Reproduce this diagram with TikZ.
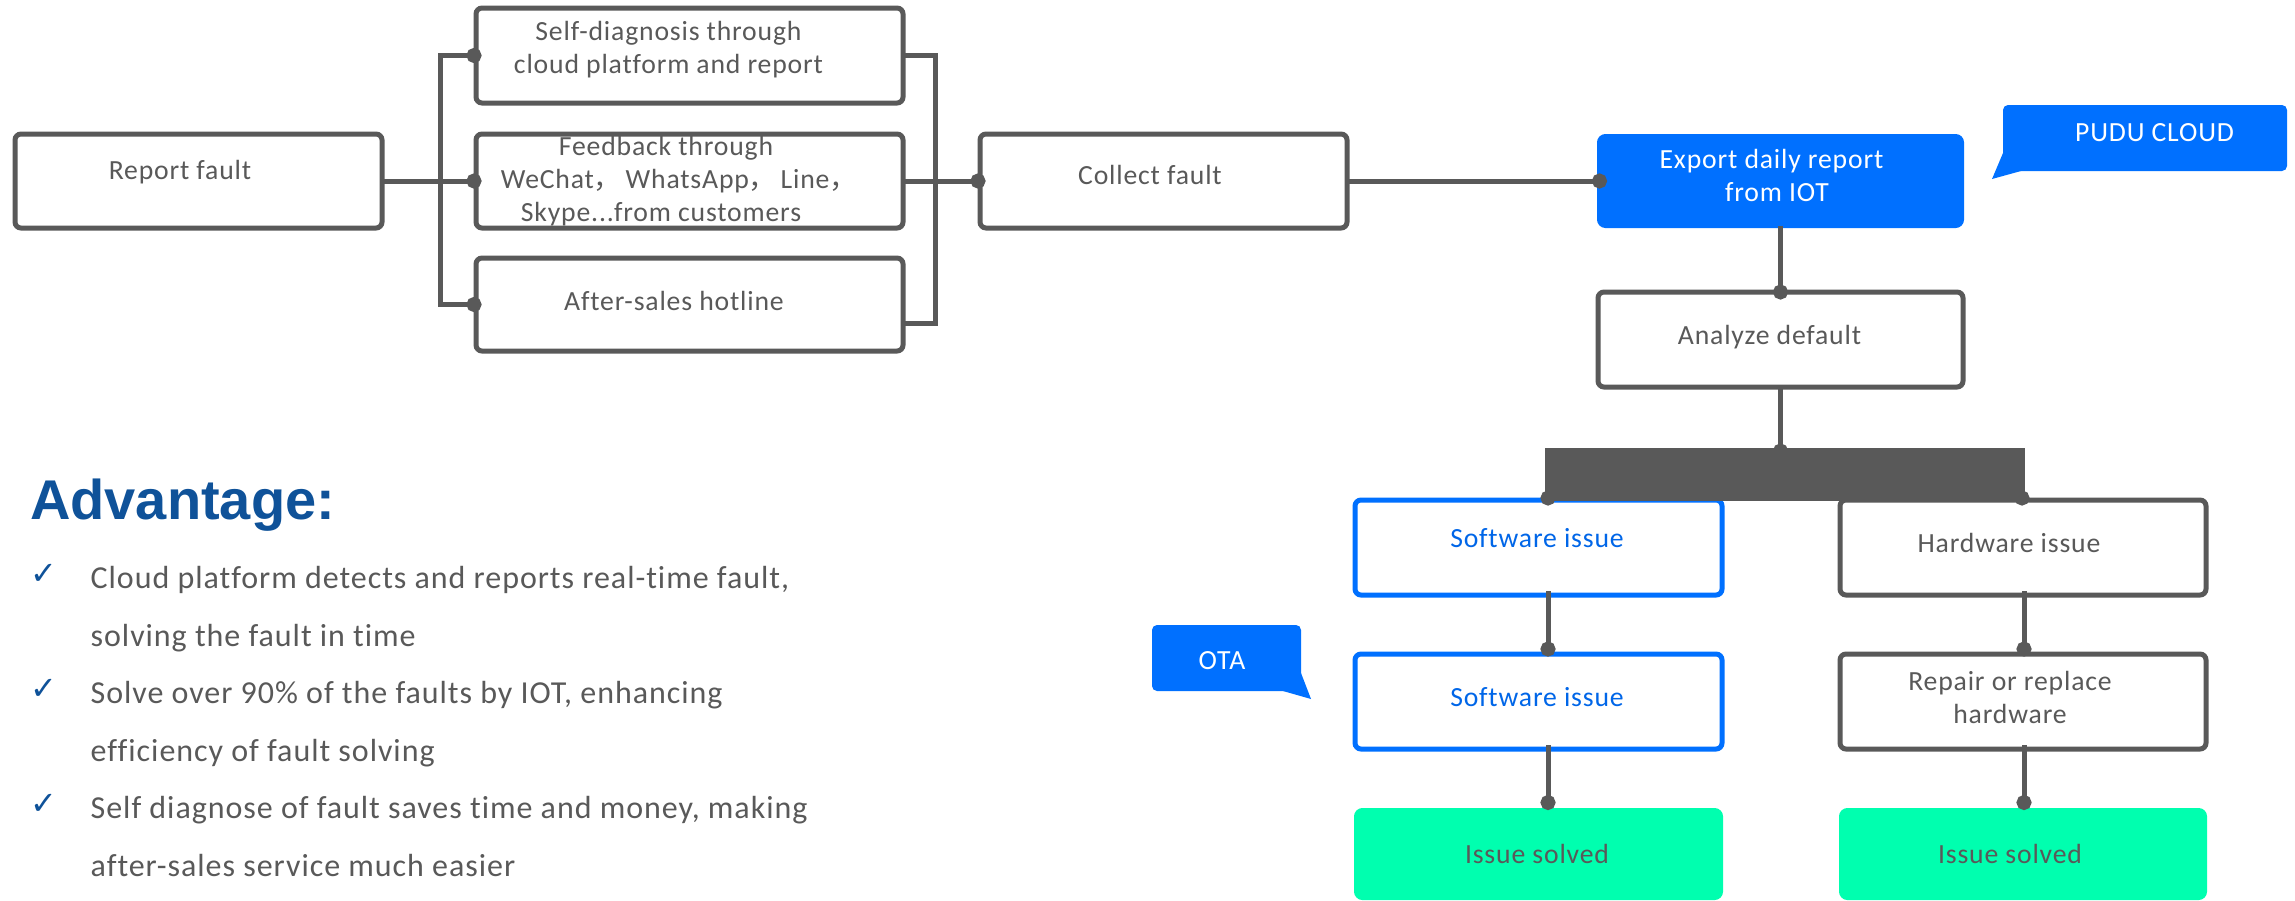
\documentclass[tikz,border=0pt]{standalone}
\usepackage{fontspec}
\setmainfont[LetterSpace=3,Ligatures=CommonOff]{Carlito}
\newfontfamily\headfont{Liberation Sans}
\newfontfamily\cjk{Noto Sans CJK SC}
\newfontfamily\symb{DejaVu Sans}
\usetikzlibrary{arrows.meta}
\definecolor{ink}{HTML}{595959}
\definecolor{pblue}{HTML}{0070FF}
\definecolor{tblue}{HTML}{0066E8}
\definecolor{pgreen}{HTML}{00FFAF}
\definecolor{navy}{HTML}{0F5299}
\newcommand\ot[3]{\makebox[0pt]{\hspace{#1}\raisebox{#2}[0pt][0pt]{\begin{tabular}{@{}c@{}}#3\end{tabular}}}}
\newcommand\fc{{\cjk ，}}
\newcommand\bx[7][]{%
  \pgfmathsetmacro\cxv{(#3+#5)/2}\pgfmathsetmacro\cyv{(#4+#6)/2}%
  \pgfmathsetmacro\wv{#5-#3-2}\pgfmathsetmacro\hv{#6-#4-2}%
  \node[nbox,#1,minimum width=\wv pt,minimum height=\hv pt] (#2) at (\cxv,\cyv) {#7};}
\tikzset{
  nbox/.style={draw=ink,line width=5pt,rounded corners=6pt,inner sep=0pt,outer sep=0pt,
    text=ink,fill=white,font=\fontsize{27.7}{33}\selectfont},
  bluebox/.style={draw=pblue,text=tblue},
  filledbox/.style={draw=pblue,fill=pblue,text=white},
  greenbox/.style={draw=pgreen,fill=pgreen},
  conn/.style={draw=ink,line width=5pt},
  dotconn/.style={conn,-{Circle[length=15pt,width=15pt]},shorten >=-7.5pt},
  bubble/.style={fill=pblue,rounded corners=5pt,inner sep=0pt,outer sep=0pt,text=white,
    font=\fontsize{27.7}{33}\selectfont},
  bodytext/.style={anchor=base west,inner sep=0pt,text=ink,font=\fontsize{32}{36}\selectfont},
  tick/.style={anchor=base west,inner sep=0pt,text=navy,font=\symb\fontsize{32}{36}\selectfont}
}
\begin{document}
\begin{tikzpicture}[x=1pt,y=-1pt]
\useasboundingbox (0,0) rectangle (2295,900);
% boxes
\bx{report}{14}{133}{383}{229}{\ot{-37pt}{1.5pt}{Report fault}}
\bx{selfd}{475}{7}{904}{104}{\ot{-42pt}{-1pt}{Self-diagnosis through\\cloud platform and report}}
\bx{feedback}{475}{133}{904}{229}{\ot{-47pt}{-7.5pt}{Feedback through\\\hspace*{26pt}WeChat\fc\hspace{4pt}WhatsApp\fc\hspace{4pt}Line\fc\\\hspace*{-10pt}Skype...from customers}}
\bx{hotline}{475}{257}{904}{352}{\ot{-31pt}{-5.5pt}{After-sales hotline}}
\bx{collect}{979}{133}{1348}{229}{\ot{-27pt}{-3pt}{Collect fault}}
\bx[filledbox]{export}{1598.5}{135.5}{1962.5}{226.5}{\ot{-12pt}{-3.5pt}{\hspace*{-6pt}Export daily report\\\hspace*{5pt}from IOT}}
\bx{analyze}{1597}{291}{1964}{388}{\ot{-22pt}{-4.2pt}{Analyze default}}
\bx[bluebox]{swa}{1354}{499}{1723}{596}{\ot{-3pt}{0.8pt}{Software issue}}
\bx{hwa}{1839}{499}{2207}{596}{\ot{-28pt}{-5pt}{Hardware issue}}
\bx[bluebox]{swb}{1354}{653}{1723}{750}{\ot{-3pt}{-5pt}{Software issue}}
\bx{repair}{1839}{653}{2207}{750}{\ot{-26pt}{-5.5pt}{Repair or replace\\hardware}}
\bx[greenbox]{solveda}{1355.5}{809.5}{1721.5}{898.5}{\ot{-3pt}{-8.7pt}{Issue solved}}
\bx[greenbox]{solvedb}{1840.5}{809.5}{2205.5}{898.5}{\ot{-26pt}{-8.7pt}{Issue solved}}
% bar
\node[fill=ink,inner sep=0pt,outer sep=0pt,minimum width=480pt,minimum height=53pt] (split) at (1785,474.5) {};
% callouts
\fill[pblue] (2003,153) -- (1992,179) -- (2021,171) -- (2040,160) -- cycle;
\node[bubble,minimum width=284pt,minimum height=66pt] (pudu) at (2145,138) {\ot{19pt}{-2.7pt}{PUDU CLOUD}};
\fill[pblue] (1301,673) -- (1311,699) -- (1283,691) -- (1270,670) -- cycle;
\node[bubble,minimum width=149pt,minimum height=66pt] (ota) at (1226.5,658) {\ot{-9pt}{-11.5pt}{OTA}};
% helper coordinates
\coordinate (trunk) at (440,181);
\coordinate (rbus) at (935,181);
% connectors
\draw[dotconn] (report.east) -- ([xshift=-2pt]feedback.west);
\draw[dotconn] (trunk |- hotline.west) -- (trunk |- selfd.west) -- ([xshift=-2pt]selfd.west);
\draw[dotconn] (trunk) -- (trunk |- hotline.west) -- ([xshift=-2pt]hotline.west);
\draw[conn] (selfd.east) -| (rbus) |- ([yshift=-18.5pt]hotline.east);
\draw[dotconn] (feedback.east) -- ([xshift=-2pt]collect.west);
\draw[dotconn] (collect.east) -- (export.west);
\draw[dotconn] (export.south) -- (analyze.north);
\draw[dotconn] (analyze.south) -- ([yshift=-3pt]split.north -| analyze.south);
\path ([xshift=3pt,yshift=3pt]split.south west) coordinate (ldot);
\path ([xshift=-3pt,yshift=3pt]split.south east) coordinate (rdot);
\draw[dotconn] ([yshift=20pt]ldot) -- (ldot);
\draw[dotconn] ([yshift=20pt]rdot) -- (rdot);
\draw[dotconn] ([xshift=9.5pt,yshift=4pt]swa.south) -- ([xshift=9.5pt,yshift=5pt]swb.north);
\draw[dotconn] ([xshift=9.5pt,yshift=4pt]swb.south) -- ([xshift=9.5pt,yshift=8pt]solveda.north);
\draw[dotconn] ([xshift=1pt,yshift=4pt]hwa.south) -- ([xshift=1pt,yshift=5pt]repair.north);
\draw[dotconn] ([xshift=1pt,yshift=4pt]repair.south) -- ([xshift=1pt,yshift=8pt]solvedb.north);
% advantage
\node[anchor=base west,inner sep=0pt,text=navy,font=\headfont\bfseries\fontsize{56}{60}\selectfont] (adv) at (30,519) {Advantage:};
\node[tick] (ta) at (30,584) {✓};
\node[tick] (tb) at (30,699) {✓};
\node[tick] (tc) at (30,814) {✓};
\node[bodytext] (la) at (90.5,588) {Cloud platform detects and reports real-time fault,};
\node[bodytext] (lb) at (90.5,646) {solving the fault in time};
\node[bodytext] (lc) at (90.5,703) {Solve over 90\% of the faults by IOT, enhancing};
\node[bodytext] (ld) at (90.5,761) {efficiency of fault solving};
\node[bodytext] (le) at (90.5,818) {Self diagnose of fault saves time and money, making};
\node[bodytext] (lf) at (90.5,876) {after-sales service much easier};
\end{tikzpicture}
\end{document}
